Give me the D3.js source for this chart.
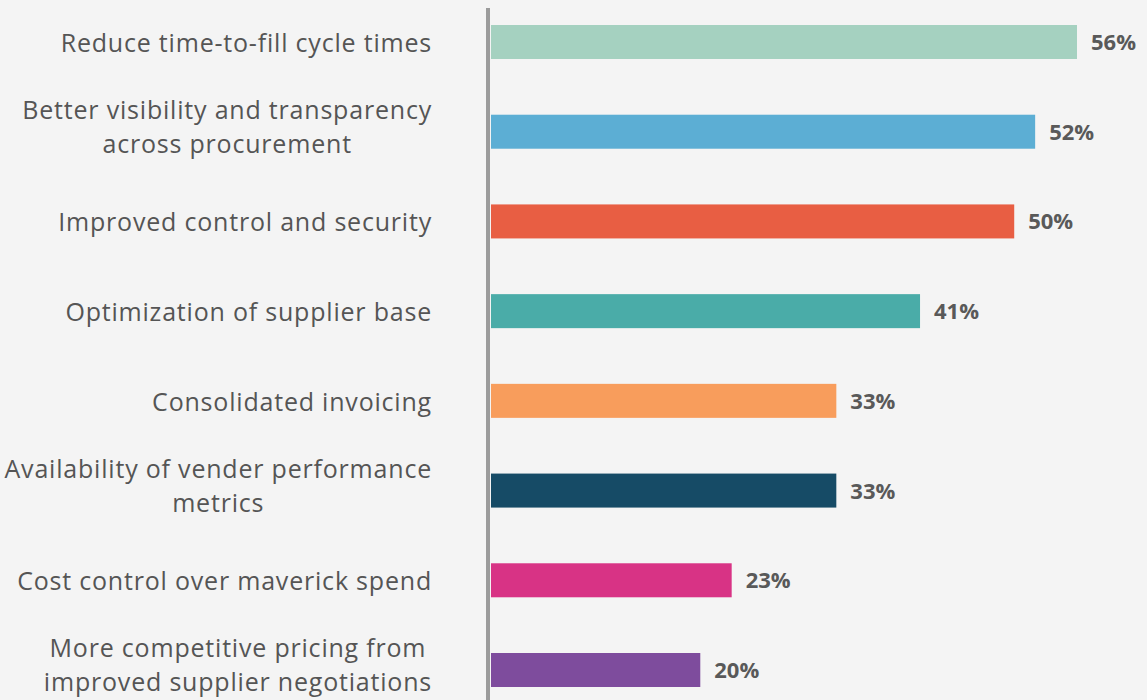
<!DOCTYPE html>
<html>
<head>
<meta charset="utf-8">
<script src="https://cdn.jsdelivr.net/npm/d3@7"></script>
<style>
  html, body { margin: 0; padding: 0; background: #f4f4f4; }
  svg { display: block; }
</style>
</head>
<body>
<svg id="chart" width="1147" height="700"></svg>
<script>
// chart data
const categories = [
  ["Reduce time-to-fill cycle times"],
  ["Better visibility and transparency", "across procurement"],
  ["Improved control and security"],
  ["Optimization of supplier base"],
  ["Consolidated invoicing"],
  ["Availability of vender performance", "metrics"],
  ["Cost control over maverick spend"],
  ["More competitive pricing from", "improved supplier negotiations"]
];
const values = [56, 52, 50, 41, 33, 33, 23, 20];
const colors = ["#a5d1c0", "#5caed4", "#e85e43", "#4aaca8", "#f89d5c", "#164b66", "#d83385", "#7e4c9d"];

const width = 1147, height = 700;
const svg = d3.select("#chart");

svg.append("rect")
  .attr("width", width).attr("height", height)
  .attr("fill", "#f4f4f4");

const idx = d3.range(values.length);

// bar centers
const y = d3.scalePoint()
  .domain(idx)
  .range([42, 670]);

const x = d3.scaleLinear()
  .domain([0, 56])
  .range([491, 1077]);

const barH = 34;
const labelRight = 432;
const lineH = 34;
const font = "'Open Sans', 'Noto Sans', sans-serif";

// bars
svg.selectAll("rect.bar")
  .data(idx)
  .enter()
  .append("rect")
  .attr("class", "bar")
  .attr("x", x(0))
  .attr("y", i => y(i) - barH / 2)
  .attr("width", i => x(values[i]) - x(0))
  .attr("height", barH)
  .attr("fill", i => colors[i]);

// value labels
svg.selectAll("text.val")
  .data(idx)
  .enter()
  .append("text")
  .attr("class", "val")
  .attr("x", i => x(values[i]) + 14)
  .attr("y", i => y(i) + 8)
  .attr("font-family", font)
  .attr("font-weight", 700)
  .attr("font-size", 22)
  .attr("fill", "#595959")
  .text(i => values[i] + "%");

// category labels: lines centered on each other, block right aligned
idx.forEach(i => {
  const lines = categories[i];
  const shift = lines.length > 1 ? -6 : 0;
  const g = svg.append("g");
  const texts = lines.map((ln, k) => g.append("text")
    .attr("font-family", font)
    .attr("font-size", 25)
    .attr("letter-spacing", 0.8)
    .attr("fill", "#555555")
    .attr("text-anchor", "middle")
    .attr("y", y(i) + 10 + shift + (k - (lines.length - 1) / 2) * lineH)
    .text(ln));
  const w = d3.max(texts, t => t.node().getComputedTextLength());
  texts.forEach(t => t.attr("x", labelRight - w / 2));
});

// vertical axis line
svg.append("line")
  .attr("x1", 488).attr("x2", 488)
  .attr("y1", 8).attr("y2", height)
  .attr("stroke", "#9b9b9b")
  .attr("stroke-width", 4);
</script>
</body>
</html>
